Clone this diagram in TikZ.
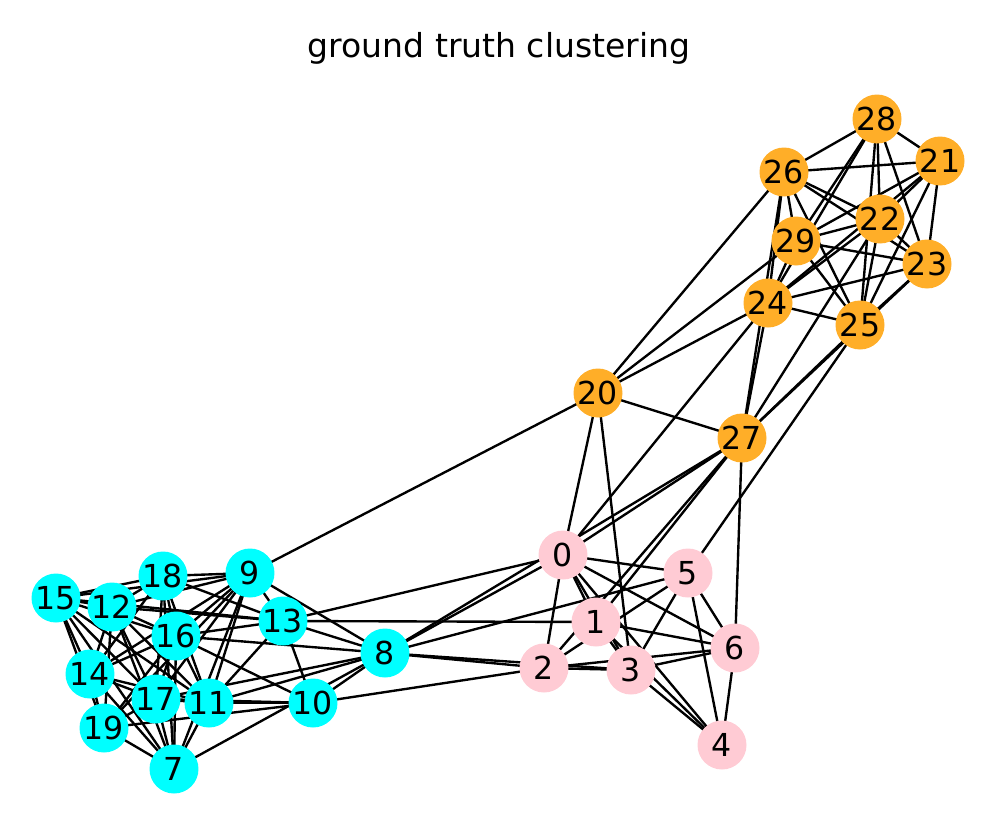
\documentclass[tikz,border=0pt]{standalone}
\usepackage{fontspec}
\setmainfont{DejaVu Sans}
\pgfdeclarelayer{bg}
\pgfsetlayers{bg,main}
\definecolor{cy}{RGB}{0,255,255}
\definecolor{pk}{RGB}{255,203,212}
\definecolor{orn}{RGB}{255,174,40}
\tikzset{
  nd/.style={circle,draw=none,minimum size=0.98cm,inner sep=0pt,font=\fontsize{18}{20}\selectfont},
  cn/.style={nd,fill=cy},
  pn/.style={nd,fill=pk},
  on/.style={nd,fill=orn},
  ed/.style={draw=black,line width=1.35pt}
}
\begin{document}
\begin{tikzpicture}[x=0.02cm,y=-0.02cm]
\useasboundingbox (0,0) rectangle (998,822);
\node[font=\fontsize{18.8}{22}\selectfont] (title) at (499,48) {ground truth clustering};
% pink
\node[pn] (n0) at (563,555) {0};
\node[pn] (n1) at (596,622) {1};
\node[pn] (n2) at (544,668) {2};
\node[pn] (n3) at (631,670) {3};
\node[pn] (n4) at (722,745) {4};
\node[pn] (n5) at (688,573) {5};
\node[pn] (n6) at (735,648) {6};
% cyan
\node[cn] (n7) at (174,769) {7};
\node[cn] (n8) at (385,653) {8};
\node[cn] (n9) at (250,573) {9};
\node[cn] (n10) at (313,703) {10};
\node[cn] (n11) at (209,703) {11};
\node[cn] (n12) at (112,607) {12};
\node[cn] (n13) at (283,621) {13};
\node[cn] (n14) at (90,674) {14};
\node[cn] (n15) at (56,598) {15};
\node[cn] (n16) at (176,636) {16};
\node[cn] (n17) at (156,699) {17};
\node[cn] (n18) at (163,576) {18};
\node[cn] (n19) at (104,728) {19};
% orange
\node[on] (n20) at (598,393) {20};
\node[on] (n21) at (940,161) {21};
\node[on] (n22) at (880,219) {22};
\node[on] (n23) at (927,264) {23};
\node[on] (n24) at (768,303) {24};
\node[on] (n25) at (860,325) {25};
\node[on] (n26) at (784,172) {26};
\node[on] (n27) at (742,438) {27};
\node[on] (n28) at (877,119) {28};
\node[on] (n29) at (796,241) {29};
\begin{pgfonlayer}{bg}
\foreach \a/\b in {0/1,0/3,0/4,1/3,1/4,3/4,0/5,0/6,1/6,0/2,2/3,2/6,3/6,3/5,5/6,5/4,6/4,2/5,
 6/27,5/25,20/3,20/0,20/27,0/24,0/27,1/27,2/27,
 8/0,8/27,8/2,8/3,8/5,10/2,13/0,13/1,
 9/20,20/26,20/24,20/29,
 28/26,28/21,28/22,28/25,28/23,28/29,28/24,26/21,26/22,26/23,26/29,26/24,26/25,
 21/22,21/29,21/23,21/25,21/24,22/29,22/24,22/25,22/23,29/23,29/25,29/24,24/23,24/25,23/25,
 25/27,23/27,24/27,26/27,22/27,
 7/19,7/17,7/14,7/11,7/16,7/12,7/9,7/15,7/8,7/18,
 8/9,8/13,8/16,8/11,8/17,8/10,
 9/18,9/12,9/15,9/16,9/14,9/17,9/19,9/11,9/13,
 10/11,10/17,10/16,10/13,10/19,
 11/13,11/16,11/18,11/12,11/15,11/14,11/17,
 12/15,12/18,12/16,12/14,12/17,12/19,12/13,
 13/15,13/16,13/18,
 14/15,14/16,14/17,14/19,14/18,
 15/18,15/19,15/16,15/17,
 16/18,16/17,16/19,
 17/18,17/19}
  \draw[ed] (n\a.center) -- (n\b.center);
\end{pgfonlayer}
\end{tikzpicture}
\end{document}
